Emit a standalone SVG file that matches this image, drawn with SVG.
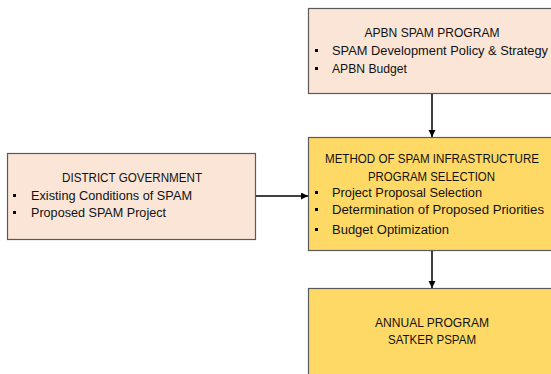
<svg xmlns="http://www.w3.org/2000/svg" width="551" height="374" viewBox="0 0 551 374">
<defs>
<style>
.box{stroke:#5a5a5a;stroke-width:1.2}
.peach{fill:#FBE5D6}
.yellow{fill:#FFD966}
text{font-family:"Liberation Sans",Arial,sans-serif;font-size:12.5px;fill:#111}
.c{text-anchor:middle}
.b{fill:#000}
.conn{stroke:#000;stroke-width:1.5;fill:none}
</style>
<marker id="ah" markerWidth="8" markerHeight="8" refX="7" refY="3.5" orient="auto" markerUnits="userSpaceOnUse">
<path d="M0,0 L7,3.5 L0,7 Z" fill="#000"/>
</marker>
</defs>
<rect width="551" height="374" fill="#fff"/>
<g id="apbn">
<rect class="box peach" x="308.5" y="8.5" width="260" height="85"/>
<text class="c" x="432" y="37" textLength="135" lengthAdjust="spacingAndGlyphs">APBN SPAM PROGRAM</text>
<rect class="b" x="315" y="49" width="3" height="3"/>
<text x="332" y="55" textLength="216" lengthAdjust="spacingAndGlyphs">SPAM Development Policy &amp; Strategy</text>
<rect class="b" x="315" y="67" width="3" height="3"/>
<text x="332" y="73" textLength="75" lengthAdjust="spacingAndGlyphs">APBN Budget</text>
</g>
<g id="district">
<rect class="box peach" x="7.5" y="153.5" width="248" height="86"/>
<text class="c" x="132" y="182" textLength="140" lengthAdjust="spacingAndGlyphs">DISTRICT GOVERNMENT</text>
<rect class="b" x="13" y="194" width="3" height="3"/>
<text x="31" y="200" textLength="161" lengthAdjust="spacingAndGlyphs">Existing Conditions of SPAM</text>
<rect class="b" x="13" y="211" width="3" height="3"/>
<text x="31" y="217" textLength="135" lengthAdjust="spacingAndGlyphs">Proposed SPAM Project</text>
</g>
<g id="method">
<rect class="box yellow" x="308.5" y="137.5" width="260" height="113"/>
<text class="c" x="432" y="163" textLength="214" lengthAdjust="spacingAndGlyphs">METHOD OF SPAM INFRASTRUCTURE</text>
<text class="c" x="431.5" y="181" textLength="127" lengthAdjust="spacingAndGlyphs">PROGRAM SELECTION</text>
<rect class="b" x="315" y="191" width="3" height="3"/>
<text x="332" y="197" textLength="150" lengthAdjust="spacingAndGlyphs">Project Proposal Selection</text>
<rect class="b" x="315" y="208" width="3" height="3"/>
<text x="332" y="214" textLength="212" lengthAdjust="spacingAndGlyphs">Determination of Proposed Priorities</text>
<rect class="b" x="315" y="228" width="3" height="3"/>
<text x="332" y="234" textLength="117" lengthAdjust="spacingAndGlyphs">Budget Optimization</text>
</g>
<g id="annual">
<rect class="box yellow" x="308.5" y="288.5" width="260" height="100"/>
<text class="c" x="432" y="327" textLength="114" lengthAdjust="spacingAndGlyphs">ANNUAL PROGRAM</text>
<text class="c" x="432" y="344" textLength="88" lengthAdjust="spacingAndGlyphs">SATKER PSPAM</text>
</g>
<g id="connectors">
<line class="conn" x1="432" y1="94" x2="432" y2="137" marker-end="url(#ah)"/>
<line class="conn" x1="256" y1="196" x2="308" y2="196" marker-end="url(#ah)"/>
<line class="conn" x1="432" y1="251" x2="432" y2="288" marker-end="url(#ah)"/>
</g>
</svg>
